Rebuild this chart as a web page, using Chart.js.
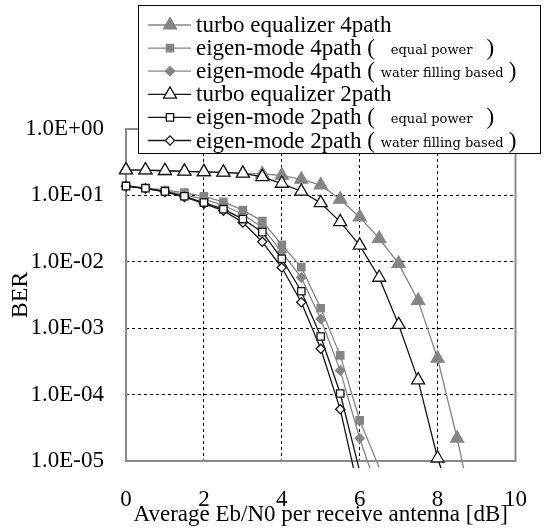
<!DOCTYPE html>
<html><head><meta charset="utf-8">
<script src="https://cdn.jsdelivr.net/npm/chart.js@4.4.1/dist/chart.umd.min.js"></script>
<style>html,body{margin:0;padding:0;background:#fff}#wrap{width:552px;height:532px;position:relative}</style>
</head><body><div id="wrap"><canvas id="c" width="552" height="532"></canvas></div>
<script>
// ---- data ----
const ebn0 = [0,0.5,1,1.5,2,2.5,3,3.5,4,4.5,5,5.5,6,6.5,7,7.5,8,8.5,9];
const turbo4   = [0.245,0.24,0.235,0.23,0.225,0.22,0.215,0.21,0.2,0.174,0.143,0.087,0.047,0.0224,0.0094,0.0026,3.5e-4,2.2e-5,1.0e-6];
const eigenEq4 = [0.14,0.13,0.12,0.11,0.097,0.08,0.06,0.041,0.018,0.0083,0.002,3.9e-4,4.1e-5,8e-6];
const eigenWf4 = [0.138,0.128,0.117,0.102,0.088,0.071,0.052,0.033,0.014,0.0058,0.00138,2.3e-4,2.2e-5,3e-6];
const turbo2   = [0.24,0.24,0.235,0.23,0.226,0.222,0.214,0.19,0.151,0.115,0.077,0.04,0.0177,0.0058,0.00113,1.65e-4,1.1e-5,1.5e-6];
const eigenEq2 = [0.138,0.128,0.115,0.097,0.078,0.062,0.044,0.028,0.0111,0.0036,7.5e-4,1.04e-4,7e-6];
const eigenWf2 = [0.138,0.127,0.113,0.095,0.075,0.059,0.039,0.02,0.0082,0.00246,4.9e-4,6e-5,3e-6];
const seriesNames = ['turbo equalizer 4path','eigen-mode 4path (','eigen-mode 4path (','turbo equalizer 2path','eigen-mode 2path (','eigen-mode 2path ('];
const seriesNotes = ['','equal power','water filling based','','equal power','water filling based'];
const xTickLabels = ['0','2','4','6','8','10'];
const yTickValues = [1,0.1,0.01,0.001,1e-4,1e-5];
const yTickLabels = ['1.0E+00','1.0E-01','1.0E-02','1.0E-03','1.0E-04','1.0E-05'];
const xTitle = 'Average Eb/N0 per receive antenna [dB]';
const yTitle = 'BER';

const SERIF = '"Liberation Serif", "Times New Roman", serif';
const NOTE_FONT = '13px "DejaVu Serif", serif';
const GRAY = '#858585';
const DARK = '#151515';

function pts(arr){ return arr.map((v,i)=>({x:ebn0[i], y:v})); }
const styles = [
  {data:turbo4,   color:GRAY, fill:GRAY,   style:'triangle', r:7.5, order:2},
  {data:eigenEq4, color:GRAY, fill:GRAY,   style:'rect',     r:5.2, order:2},
  {data:eigenWf4, color:GRAY, fill:GRAY,   style:'rectRot',  r:4.6, order:2},
  {data:turbo2,   color:DARK, fill:'#fff', style:'triangle', r:7.5, order:1},
  {data:eigenEq2, color:DARK, fill:'#fff', style:'rect',     r:5.2, order:1},
  {data:eigenWf2, color:DARK, fill:'#fff', style:'rectRot',  r:4.6, order:1}
];
const datasets = styles.map((s,i)=>({
  label: seriesNames[i] + (seriesNotes[i] ? ' ' + seriesNotes[i] + ' )' : ''),
  data: pts(s.data),
  borderColor: s.color,
  backgroundColor: s.fill,
  pointBackgroundColor: s.fill,
  pointBorderColor: s.color,
  pointBorderWidth: 1.3,
  borderWidth: 1.3,
  pointStyle: s.style,
  pointRadius: (c)=> (c.raw && c.raw.y < 1e-5) ? 0 : s.r,
  pointHoverRadius: s.r,
  tension: 0,
  order: s.order,
  clip: {left:12, top:12, right:12, bottom:7}
}));

const framePlugin = {
  id:'frame',
  beforeDatasetsDraw(chart){
    const a = chart.chartArea, ctx = chart.ctx;
    ctx.save();
    ctx.strokeStyle = '#8a8a8a';
    ctx.lineWidth = 2;
    ctx.strokeRect(a.left, a.top, a.right - a.left, a.bottom - a.top);
    ctx.restore();
  }
};

function drawMarker(ctx, s, x, y){
  ctx.save();
  ctx.fillStyle = s.fill; ctx.strokeStyle = s.color; ctx.lineWidth = 1.3;
  if (Chart.helpers && Chart.helpers.drawPoint) {
    Chart.helpers.drawPoint(ctx, {pointStyle:s.style, radius:s.r, borderWidth:1.3, rotation:0}, x, y);
  }
  ctx.restore();
}

const legendPlugin = {
  id:'customLegend',
  afterDraw(chart){
    const ctx = chart.ctx;
    const L = {x1:138, y1:5, x2:540, y2:153, row0:25, rowH:23.1, lx1:148, lx2:191, mx:170, tx:196};
    ctx.save();
    ctx.fillStyle = '#fff';
    ctx.fillRect(L.x1, L.y1, L.x2 - L.x1, L.y2 - L.y1);
    ctx.strokeStyle = '#000'; ctx.lineWidth = 1;
    ctx.strokeRect(L.x1 + 0.5, L.y1 + 0.5, L.x2 - L.x1, L.y2 - L.y1);
    ctx.textBaseline = 'alphabetic'; ctx.fillStyle = '#000';
    styles.forEach((s,i)=>{
      const y = L.row0 + i*L.rowH;
      const base = y + 7;
      ctx.strokeStyle = s.color; ctx.lineWidth = 1.3;
      ctx.beginPath(); ctx.moveTo(L.lx1, y); ctx.lineTo(L.lx2, y); ctx.stroke();
      drawMarker(ctx, s, L.mx, y);
      ctx.fillStyle = '#000';
      ctx.font = '23px ' + SERIF;
      ctx.fillText(seriesNames[i], L.tx, base);
      if (seriesNotes[i]) {
        let x = L.tx + ctx.measureText(seriesNames[i]).width;
        const wide = seriesNotes[i] === 'equal power';
        x += wide ? 16 : 6;
        ctx.font = NOTE_FONT;
        ctx.fillText(seriesNotes[i], x, base - 1);
        x += ctx.measureText(seriesNotes[i]).width + (wide ? 14 : 5);
        ctx.font = '23px ' + SERIF;
        ctx.fillText(')', x, base);
      }
    });
    ctx.restore();
  }
};

new Chart(document.getElementById('c'), {
  type:'line',
  data:{datasets},
  options:{
    responsive:false,
    animation:false,
    events:[],
    layout:{padding:{left:0, right:25, top:129, bottom:0}},
    plugins:{legend:{display:false}, tooltip:{enabled:false}, title:{display:false}},
    scales:{
      x:{
        type:'linear', min:0, max:10,
        afterFit(s){ s.height = 71; },
        ticks:{stepSize:2, padding:25, color:'#000', font:{family:SERIF, size:23},
          callback:(v,i)=> xTickLabels[i]},
        grid:{drawTicks:false, lineWidth:1,
          color:(c)=> (c.tick && (c.tick.value===0 || c.tick.value===10)) ? 'rgba(0,0,0,0)' : '#000'},
        border:{display:false, dash:[3,3]},
        title:{display:true, text:xTitle, color:'#000', font:{family:SERIF, size:23}, padding:{top:0, bottom:3}}
      },
      y:{
        type:'logarithmic', min:1e-5, max:1,
        afterFit(s){ s.width = 126; },
        afterBuildTicks(s){ s.ticks = yTickValues.map(v=>({value:v})); },
        ticks:{padding:22, color:'#000', font:{family:SERIF, size:23},
          callback:(v,i)=> yTickLabels[i]},
        grid:{drawTicks:false, lineWidth:1,
          color:(c)=> (c.tick && (c.tick.value===1 || c.tick.value===1e-5)) ? 'rgba(0,0,0,0)' : '#000'},
        border:{display:false, dash:[3,3]},
        title:{display:true, text:yTitle, color:'#000', font:{family:SERIF, size:24}, padding:{top:6, bottom:0}}
      }
    }
  },
  plugins:[framePlugin, legendPlugin]
});
</script>
</body></html>
